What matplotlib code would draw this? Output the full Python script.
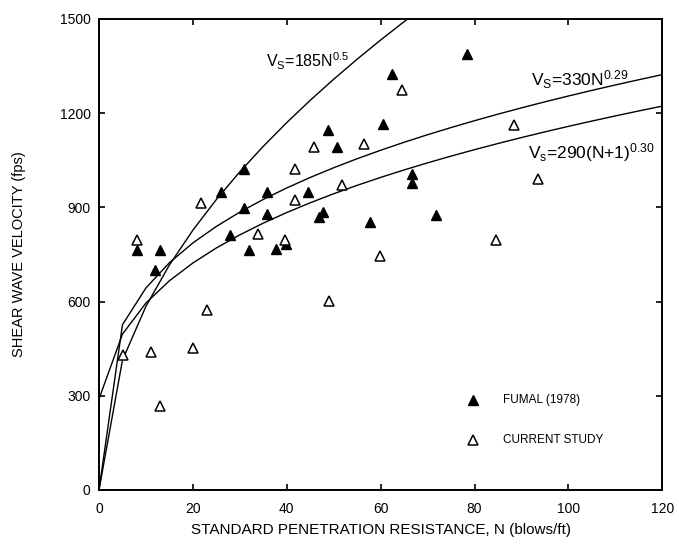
import numpy as np
import matplotlib
matplotlib.use("Agg")
import matplotlib.pyplot as plt

plt.rcParams["font.family"] = ["Liberation Sans", "DejaVu Sans"]
plt.rcParams["mathtext.default"] = "regular"

# Fumal (1978) data
fumal_n = [8.2, 13.0, 12.0, 25.9, 30.9, 30.9, 27.8, 31.9, 35.8, 35.8, 37.7, 39.8,
           44.6, 46.8, 47.8, 48.7, 50.6, 57.7, 60.6, 62.5, 78.4, 66.6, 66.6, 71.7]
fumal_vs = [763, 763, 700, 948, 1021, 899, 813, 763, 948, 880, 766, 782,
            948, 868, 885, 1145, 1092, 853, 1166, 1324, 1388, 1006, 977, 875]

# current study data
current_n = [5.1, 8.0, 11.0, 13.1, 20.0, 21.8, 22.9, 33.8, 39.7, 41.8, 41.8, 45.8,
             48.9, 51.7, 56.5, 59.8, 64.5, 84.5, 88.3, 93.5]
current_vs = [430, 797, 440, 268, 451, 913, 574, 815, 797, 1022, 922, 1092,
              601, 972, 1103, 746, 1275, 795, 1162, 991]

x_ticks = [0, 20, 40, 60, 80, 100, 120]
y_ticks = [0, 300, 600, 900, 1200, 1500]

# empirical relations, evaluated every 5 blows
n = np.arange(0, 121, 5, dtype=float)
vs_a = 185 * n ** 0.5
vs_b = 330 * n ** 0.29
vs_c = 290 * (n + 1) ** 0.30

fig = plt.figure(figsize=(6.79, 5.49), dpi=100)
ax = fig.add_axes([0.1458, 0.1075, 0.8297, 0.858])

for vs in (vs_a, vs_b, vs_c):
    ax.plot(n, vs, color="black", lw=1.0)

ax.plot(fumal_n, fumal_vs, "^", color="black", ms=7.5, ls="none")
ax.plot(current_n, current_vs, "^", mfc="white", mec="black", mew=1.1, ms=7.5, ls="none")

ax.text(35.5, 1366, "V$_S$=185N$^{0.5}$", fontsize=11.5, va="center", ha="left")
ax.text(92.0, 1308, "V$_S$=330N$^{0.29}$", fontsize=12.5, va="center", ha="left")
ax.text(91.3, 1074, "V$_s$=290(N+1)$^{0.30}$", fontsize=12.5, va="center", ha="left")

# legend drawn by hand
ax.plot([79.7], [287], "^", color="black", ms=7.5)
ax.plot([79.7], [160], "^", mfc="white", mec="black", mew=1.1, ms=6.5)
ax.text(86.0, 287, "FUMAL (1978)", fontsize=8.5, va="center")
ax.text(86.0, 160, "CURRENT STUDY", fontsize=8.5, va="center")

ax.set_xlim(0, 120)
ax.set_ylim(0, 1500)
ax.set_xticks(x_ticks)
ax.set_yticks(y_ticks)
ax.tick_params(direction="in", length=4, width=1.2, top=True, right=True,
               labelsize=10)
ax.tick_params(axis="x", pad=9)
ax.tick_params(axis="y", pad=6)
for sp in ax.spines.values():
    sp.set_linewidth(1.4)

ax.set_xlabel("STANDARD PENETRATION RESISTANCE, N (blows/ft)", fontsize=11, labelpad=5)
ax.set_ylabel("SHEAR WAVE VELOCITY (fps)", fontsize=10.5, labelpad=24)

fig.savefig("out.png", dpi=100)
